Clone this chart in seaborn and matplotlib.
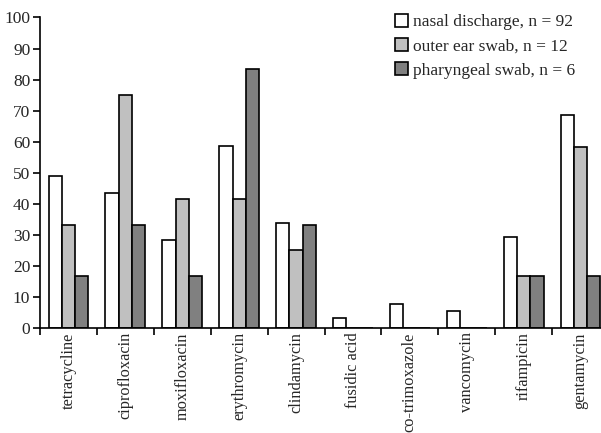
import matplotlib
matplotlib.use("Agg")
import matplotlib.pyplot as plt
import numpy as np
import pandas as pd
import seaborn as sns

# Data (percent resistant)
antibiotics = ["tetracycline", "ciprofloxacin", "moxifloxacin", "erythromycin", "clindamycin",
               "fusidic acid", "co-trimoxazole", "vancomycin", "rifampicin", "gentamycin"]
series_names = ["nasal discharge, n = 92", "outer ear swab, n = 12", "pharyngeal swab, n = 6"]
nasal = [48.9, 43.5, 28.3, 58.7, 33.7, 3.3, 7.6, 5.4, 29.3, 68.5]
outer_ear = [33.3, 75.0, 41.7, 41.7, 25.0, 0, 0, 0, 16.7, 58.3]
pharyngeal = [16.7, 33.3, 16.7, 83.3, 33.3, 0, 0, 0, 16.7, 16.7]
colors = ["#ffffff", "#c0c0c0", "#808080"]

df = pd.DataFrame({
    "antibiotic": antibiotics * 3,
    "source": [series_names[0]] * 10 + [series_names[1]] * 10 + [series_names[2]] * 10,
    "value": nasal + outer_ear + pharyngeal,
})

sns.set_theme(style="ticks")
plt.rcParams["font.family"] = ["Liberation Serif", "DejaVu Serif"]

fig = plt.figure(figsize=(6.01, 4.33), dpi=100)
ax = fig.add_axes([40 / 601, 105 / 433, 569 / 601, 310.5 / 433])

sns.barplot(data=df, x="antibiotic", y="value", hue="source", palette=colors,
            width=0.7, edgecolor="black", linewidth=1.2, saturation=1, ax=ax)

ax.set_xlim(-0.5, len(antibiotics) - 0.5)
ax.set_ylim(0, 100)
ax.set_yticks(np.arange(0, 101, 10))
ax.set_xlabel("")
ax.set_ylabel("")
sns.despine(ax=ax, top=True, right=True)
for s in ["left", "bottom"]:
    ax.spines[s].set_linewidth(1.2)
    ax.spines[s].set_color("black")

# labels at category centres, ticks at category boundaries
ax.set_xticks(range(len(antibiotics)))
ax.set_xticklabels(antibiotics, rotation=90, fontsize=11.8)
ax.tick_params(axis="x", which="major", length=0, pad=3)
ax.set_xticks(np.arange(-0.5, len(antibiotics), 1.0), minor=True)
ax.tick_params(axis="x", which="minor", length=5, width=1.2, color="black")
ax.tick_params(axis="y", length=5, width=1.2, color="black", labelsize=12.5, pad=2)

handles, labels = ax.get_legend_handles_labels()
ax.legend(handles, labels, loc="upper left", bbox_to_anchor=(388 / 601, 1 - 7 / 433),
          bbox_transform=fig.transFigure, frameon=False, borderaxespad=0,
          fontsize=12.5, handlelength=0.75, handleheight=0.75, handletextpad=0.3,
          labelspacing=0.45)

fig.savefig("out.png", dpi=100)
